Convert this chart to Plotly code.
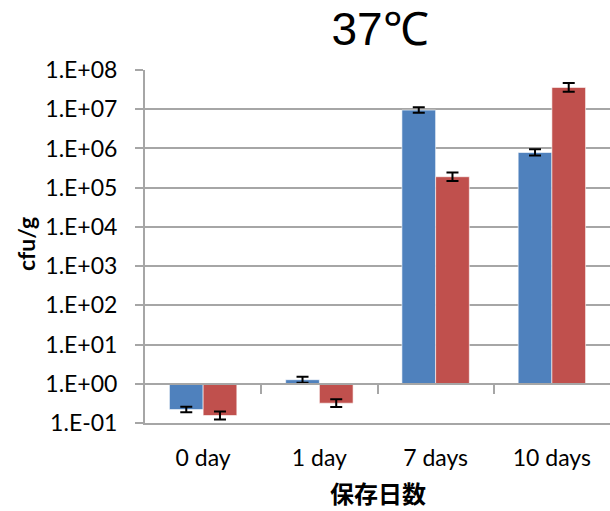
import plotly.graph_objects as go

categories = ["0 day", "1 day", "7 days", "10 days"]
series_a = [0.22, 1.27, 9.5e6, 7.9e5]      # blue
series_b = [0.155, 0.32, 1.9e5, 3.6e7]     # red
err_a_dec = [0.07, 0.075, 0.07, 0.08]      # error half-width in log decades
err_b_dec = [0.1, 0.1, 0.11, 0.11]
tick_vals = [1e-1, 1e0, 1e1, 1e2, 1e3, 1e4, 1e5, 1e6, 1e7, 1e8]
tick_text = ["1.E-01", "1.E+00", "1.E+01", "1.E+02", "1.E+03",
             "1.E+04", "1.E+05", "1.E+06", "1.E+07", "1.E+08"]
base_value = 1.0

BLUE = "#4F81BD"
RED = "#C0504D"
GRID = "#A6A6A6"
FONT = "Lato"


def make_trace(vals, errs, color):
    plus = [v * (10 ** e - 1) for v, e in zip(vals, errs)]
    minus = [v * (1 - 10 ** (-e)) for v, e in zip(vals, errs)]
    return go.Bar(
        x=categories,
        y=[v - base_value for v in vals],
        base=[base_value] * len(vals),
        marker=dict(color=color, line=dict(color="rgba(255,255,255,0.6)", width=1)),
        error_y=dict(type="data", symmetric=False, array=plus, arrayminus=minus,
                     color="black", thickness=2, width=6),
        showlegend=False,
    )


fig = go.Figure()
fig.add_trace(make_trace(series_a, err_a_dec, BLUE))
fig.add_trace(make_trace(series_b, err_b_dec, RED))

fig.update_layout(
    width=610, height=511,
    margin=dict(l=145, r=0, t=70, b=88, autoexpand=False),
    paper_bgcolor="white", plot_bgcolor="white",
    barmode="group", bargap=0.42, bargroupgap=0,
    font=dict(family=FONT, color="black"),
    title=dict(text="37℃", x=0.623, xanchor="center", y=0.944, yanchor="middle",
               font=dict(family="Liberation Sans", size=46, color="black")),
    xaxis=dict(type="category", showgrid=False, ticks="", showline=True,
               linecolor=GRID, linewidth=2, tickfont=dict(size=23, family=FONT),
               ticklabelstandoff=13, automargin=False),
    xaxis2=dict(overlaying="x", anchor="free", position=1 / 9, range=[0, 4],
                tickvals=[1, 2, 3], ticks="outside", ticklen=9, tickwidth=2,
                tickcolor=GRID, showticklabels=False, showgrid=False,
                showline=True, linecolor=GRID, linewidth=2, zeroline=False,
                automargin=False),
    yaxis=dict(type="log", range=[-1, 8], tickvals=tick_vals, ticktext=tick_text,
               showgrid=True, gridcolor=GRID, gridwidth=2, showline=True,
               linecolor=GRID, linewidth=2, ticks="outside", ticklen=8,
               tickwidth=2, tickcolor=GRID, tickfont=dict(size=23, family=FONT),
               ticklabelstandoff=13, zeroline=False, automargin=False),
    annotations=[
        dict(text="<b>cfu/g</b>", xref="paper", yref="paper", x=-0.256, y=0.507,
             textangle=-90, showarrow=False, xanchor="center", yanchor="middle",
             font=dict(size=23, family=FONT)),
        dict(text="<b>保存日数</b>", xref="paper", yref="paper", x=0.5, y=-0.196,
             showarrow=False, xanchor="center", yanchor="middle",
             font=dict(size=24, family="Noto Sans CJK JP")),
    ],
)
# invisible trace to activate x2 axis
fig.add_trace(go.Scatter(x=[0.5], y=[1], xaxis="x2", mode="markers",
                         marker=dict(opacity=0), showlegend=False, hoverinfo="skip"))

fig.write_html("out.html", config={"displayModeBar": False},
               post_script="document.body.style.margin='0';"
                           "document.body.style.overflow='hidden';")
